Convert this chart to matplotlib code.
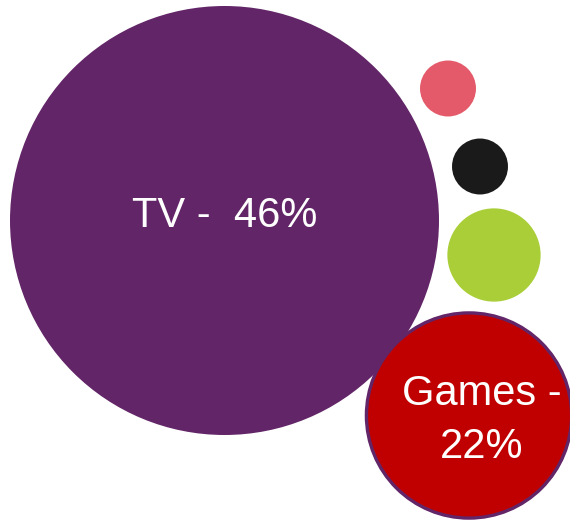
import matplotlib
matplotlib.use("Agg")
import matplotlib.pyplot as plt
from matplotlib.patches import Circle

# Share of time by activity (bubble radius proportional to share)
categories = ["TV", "Games", "Other A", "Other B", "Other C"]
shares = [46, 22, 10, 6, 6]
x_pos = [224.5, 469.0, 494.0, 480.0, 448.0]
y_pos = [220.5, 415.5, 255.0, 166.5, 88.5]
labels = ["TV -  46%", "Games -\n22%", "", "", ""]

colors = ["#622567", "#C00000", "#A9CE38", "#1A1A1A", "#E45A6A"]
edges = [None, "#622567", None, None, None]
label_offsets = [(0, 4.5), (13, -5.0), (0, 0), (0, 0), (0, 0)]

RADIUS_PER_UNIT = 4.663

fig = plt.figure(figsize=(5.70, 5.25), dpi=100)
ax = fig.add_axes([0, 0, 1, 1])
ax.set_xlim(0, 570)
ax.set_ylim(525, 0)
ax.set_aspect("equal")
ax.axis("off")

draw_order = [0, 2, 3, 4, 1]
for z, i in enumerate(draw_order):
    r = shares[i] * RADIUS_PER_UNIT
    circ = Circle((x_pos[i], y_pos[i]), r,
                  facecolor=colors[i],
                  edgecolor=edges[i] if edges[i] else "none",
                  linewidth=2.4 if edges[i] else 0,
                  zorder=2 + z)
    ax.add_patch(circ)
    if labels[i]:
        dx, dy = label_offsets[i]
        ax.text(x_pos[i] + dx, y_pos[i] - dy, labels[i],
                ha="center", va="center", multialignment="center",
                color="white", fontsize=30, family="Liberation Sans",
                linespacing=1.41 if "\n" in labels[i] else 1.2,
                zorder=20)

fig.savefig("out.png", dpi=100)
